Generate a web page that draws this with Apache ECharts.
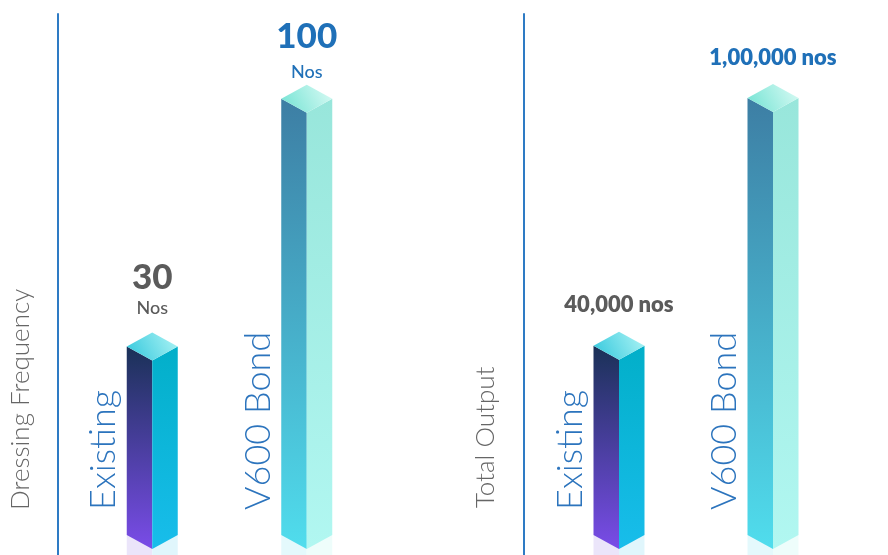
<!DOCTYPE html>
<html><head><meta charset="utf-8">
<script src="https://cdn.jsdelivr.net/npm/echarts@6/dist/echarts.min.js"></script>
<style>html,body{margin:0;padding:0;background:#fff}#main{width:888px;height:555px}</style>
</head><body><div id="main"></div>
<script>
const categories = ['Existing', 'V600 Bond'];
const frequencyValues = [30, 100];
const frequencyNumbers = ['30', '100'];
const frequencyUnits = ['Nos', 'Nos'];
const outputValues = [40000, 100000];
const outputLabels = ['40,000 nos', '1,00,000 nos'];
const axisNames = ['Dressing Frequency', 'Total Output'];

const FONT = 'Lato, "Open Sans", sans-serif';
const GRAY = '#5b5b5b', BLUE = '#1f70b8';
const palettes = [
  { left: ['#1a3157', '#7a4ce8'], right: ['#02afc9', '#18bdeb'], top: ['#2fc6dc', '#b0f5f5'], refl: ['#ebe5fa', '#e0f6fc'], label: GRAY },
  { left: ['#3d7ea4', '#50dded'], right: ['#98e6db', '#b1f7f1'], top: ['#6fe2d2', '#dcfbf5'], refl: ['#e4f9fc', '#eefdfb'], label: BLUE }
];
const HW = 25.5, DY = 14, BASE_LIFT = 20;
const NUM_LIFT = [55, 48], UNIT_LIFT = [24, 13], OUT_LIFT = [27, 26];

function lin(c, x0, y0, x1, y1) {
  return new echarts.graphic.LinearGradient(x0, y0, x1, y1, [{offset: 0, color: c[0]}, {offset: 1, color: c[1]}]);
}

function makeRender(labelFn) {
  return function (params, api) {
    const idx = api.value(0);
    const p = api.coord([idx, api.value(1)]);
    const x = p[0], yt = p[1];
    const cs = params.coordSys;
    const bottom = cs.y + cs.height;
    const base = bottom - BASE_LIFT;
    const pal = palettes[idx];
    const children = [
      {type: 'rect', shape: {x: x - HW, y: base, width: HW, height: bottom - base}, style: {fill: pal.refl[0]}},
      {type: 'rect', shape: {x: x, y: base, width: HW, height: bottom - base}, style: {fill: pal.refl[1]}},
      {type: 'polygon', shape: {points: [[x - HW, yt], [x, yt + DY], [x, base + DY], [x - HW, base]]}, style: {fill: lin(pal.left, 0, 0, 0, 1)}},
      {type: 'polygon', shape: {points: [[x, yt + DY], [x + HW, yt], [x + HW, base], [x, base + DY]]}, style: {fill: lin(pal.right, 0, 0, 0, 1)}},
      {type: 'polygon', shape: {points: [[x, yt - DY], [x + HW, yt], [x, yt + DY], [x - HW, yt]]}, style: {fill: lin(pal.top, 0, 1, 1, 0)}},
      {type: 'text', x: x - HW - 23, y: bottom - 45, rotation: Math.PI / 2,
        style: {text: categories[idx], fill: '#2c74bd', font: '300 36px ' + FONT, align: 'left', verticalAlign: 'middle'}}
    ];
    return {type: 'group', children: children.concat(labelFn(idx, x, yt - DY, pal))};
  };
}

function freqLabel(idx, x, ytop, pal) {
  return [
    {type: 'text', x: x, y: ytop - NUM_LIFT[idx], style: {text: frequencyNumbers[idx], fill: pal.label, font: '900 35px ' + FONT, align: 'center', verticalAlign: 'middle'}},
    {type: 'text', x: x, y: ytop - UNIT_LIFT[idx], style: {text: frequencyUnits[idx], fill: pal.label, font: '500 18px ' + FONT, align: 'center', verticalAlign: 'middle'}}
  ];
}
function outLabel(idx, x, ytop, pal) {
  return [
    {type: 'text', x: x, y: ytop - OUT_LIFT[idx], style: {text: outputLabels[idx], fill: pal.label, font: '800 22px ' + FONT, align: 'center', verticalAlign: 'middle'}}
  ];
}

function yAx(grid, min, max, off) {
  return {gridIndex: grid, type: 'value', min: min, max: max, offset: off,
    axisLine: {show: true, lineStyle: {color: '#2e7bc4', width: 2}},
    axisTick: {show: false}, axisLabel: {show: false}, splitLine: {show: false}};
}

const chart = echarts.init(document.getElementById('main'));
chart.setOption({
  animation: false,
  backgroundColor: '#fff',
  grid: [{left: 75, width: 309, top: 14, bottom: 0}, {left: 542, width: 308, top: 14, bottom: 0}],
  xAxis: [
    {gridIndex: 0, type: 'category', data: categories, show: false},
    {gridIndex: 1, type: 'category', data: categories, show: false}
  ],
  yAxis: [yAx(0, -29, 124, 17), yAx(1, -10600, 120300, 18)],
  graphic: [
    {type: 'text', x: 21, y: 510, rotation: Math.PI / 2, style: {text: axisNames[0], fill: '#666', font: '300 26px ' + FONT, align: 'left', verticalAlign: 'middle'}},
    {type: 'text', x: 486, y: 508, rotation: Math.PI / 2, style: {text: axisNames[1], fill: '#666', font: '300 26px ' + FONT, align: 'left', verticalAlign: 'middle'}}
  ],
  series: [
    {type: 'custom', xAxisIndex: 0, yAxisIndex: 0, encode: {x: 0, y: 1},
      data: frequencyValues.map((v, i) => [i, v]), renderItem: makeRender(freqLabel)},
    {type: 'custom', xAxisIndex: 1, yAxisIndex: 1, encode: {x: 0, y: 1},
      data: outputValues.map((v, i) => [i, v]), renderItem: makeRender(outLabel)}
  ]
});
</script></body></html>
